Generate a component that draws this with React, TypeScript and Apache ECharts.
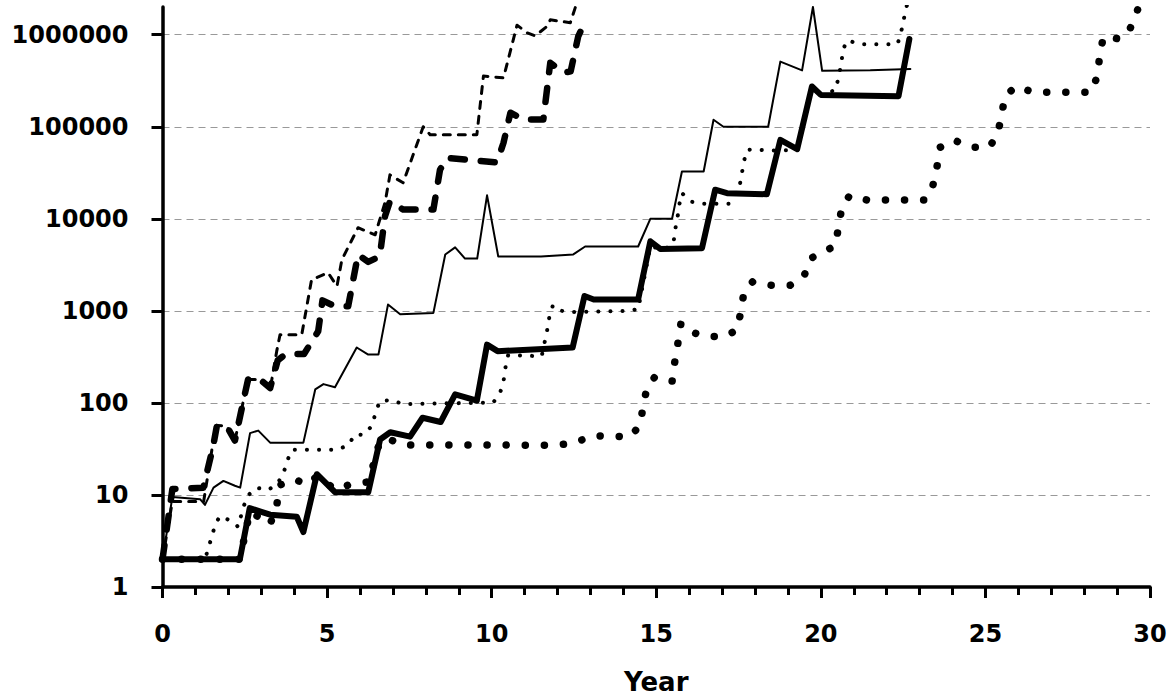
import React, { useEffect, useRef } from "react";
import * as echarts from "echarts";

const yTickValues = [1, 10, 100, 1000, 10000, 100000, 1000000];
const xMin = 0;
const xMax = 30;
const xStep = 5;
const yMin = 1;
const yMax = 2000000;

const thinDashed: [number, number][] = [
  [0, 2], [0.3, 8.5], [1.25, 8.5], [1.55, 40], [1.65, 57], [1.95, 56], [2.2, 39],
  [2.5, 124], [2.66, 180], [2.96, 180], [3.27, 141], [3.47, 365], [3.57, 550],
  [4.23, 550], [4.53, 2200], [4.69, 2300], [5.03, 2600], [5.3, 1850], [5.45, 3600],
  [5.94, 8000], [6.46, 6700], [6.76, 15000], [6.91, 30000], [7.31, 24600],
  [7.92, 100000], [8.13, 82000], [9.55, 82000], [9.75, 355000], [10.36, 340000],
  [10.77, 1270000], [11.07, 1050000], [11.32, 970000], [11.68, 1230000],
  [11.78, 1450000], [12.39, 1350000], [12.65, 2600000],
];

const thickDashed: [number, number][] = [
  [0, 2], [0.3, 11.6], [1.24, 12], [1.54, 34], [1.65, 56], [1.95, 56], [2.2, 39],
  [2.5, 124], [2.6, 180], [2.96, 180], [3.27, 145], [3.5, 290], [3.75, 340],
  [4.3, 340], [4.73, 600], [4.86, 1300], [5.24, 1120], [5.64, 1120], [5.94, 4100],
  [6.25, 3400], [6.6, 3900], [6.76, 10700], [6.91, 15500], [7.31, 12600],
  [8.23, 12600], [8.43, 34000], [8.64, 46000], [10.16, 41000], [10.36, 67000],
  [10.57, 142000], [10.97, 120000], [11.57, 120000], [11.78, 495000],
  [12.18, 385000], [12.4, 400000], [12.63, 960000], [12.85, 1400000],
];

const thinSolid: [number, number][] = [
  [0, 2], [0.3, 9.5], [1.14, 9], [1.29, 7.8], [1.55, 12], [1.85, 14.2], [2.2, 12.6],
  [2.36, 12], [2.66, 47], [2.91, 50], [3.27, 37], [4.28, 37], [4.64, 140],
  [4.89, 160], [5.24, 148], [5.9, 400], [6.25, 335], [6.56, 335], [6.85, 1170],
  [7.22, 920], [8.23, 950], [8.59, 4100], [8.89, 4900], [9.19, 3700], [9.56, 3700],
  [9.86, 18000], [10.2, 3900], [11.5, 3900], [12.48, 4100], [12.84, 5000],
  [14.45, 5000], [14.82, 10000], [15.48, 10000], [15.78, 32700], [16.44, 32700],
  [16.74, 119000], [17.04, 100000], [18.4, 100000], [18.77, 510000],
  [19.43, 410000], [19.76, 2000000], [20.04, 405000], [21.5, 410000],
  [22.72, 425000],
];

const thickSolid: [number, number][] = [
  [0, 2], [2.35, 2], [2.65, 7.2], [3.27, 6.1], [4.08, 5.8], [4.28, 3.95],
  [4.69, 16.8], [5.24, 10.7], [6.25, 10.7], [6.61, 40], [6.92, 48], [7.52, 43],
  [7.9, 69], [8.45, 62], [8.89, 124], [9.55, 106], [9.86, 430], [10.18, 365],
  [12.46, 400], [12.82, 1450], [13.1, 1330], [14.45, 1330], [14.82, 5700],
  [15.12, 4700], [16.39, 4800], [16.79, 20700], [17.15, 19000], [18.36, 18500],
  [18.77, 72000], [19.28, 57000], [19.73, 274000], [20.0, 222000],
  [22.36, 215000], [22.69, 900000],
];

const thinDotted: [number, number][] = [
  [0, 2], [1.3, 2], [1.38, 2.6], [1.5, 3.5], [1.6, 4.8], [1.75, 5.9], [2.1, 5.2],
  [2.3, 4.5], [2.45, 7.3], [2.6, 9.9], [2.86, 12], [3.2, 11.3], [3.47, 13],
  [3.67, 16.8], [3.77, 22.6], [3.93, 31], [5.3, 31], [5.64, 34.6], [5.85, 45.5],
  [6.1, 45], [6.36, 56], [6.46, 75], [6.6, 105], [6.97, 107], [7.31, 97],
  [10.05, 101], [10.26, 130], [10.36, 172], [10.42, 243], [10.5, 330],
  [11.52, 322], [11.6, 440], [11.68, 600], [11.75, 850], [11.86, 1150],
  [12.13, 1000], [12.48, 970], [14.1, 1000], [14.45, 1040], [14.82, 5000],
  [15.2, 4700], [15.45, 5000], [15.53, 5700], [15.58, 7800], [15.65, 10600],
  [15.71, 14800], [15.78, 19000], [16.08, 15300], [16.43, 14600], [17.2, 14600],
  [17.53, 22500], [17.6, 31000], [17.67, 43000], [17.76, 56000], [18.0, 57000],
  [18.36, 55000], [19.28, 56000], [19.73, 260000], [20.0, 225000],
  [20.45, 250000], [20.57, 390000], [20.69, 710000], [20.8, 870000],
  [21.18, 790000], [22.33, 790000], [22.44, 1070000], [22.52, 1470000],
  [22.6, 2000000], [22.7, 2600000],
];

const thickDotted: [number, number][] = [
  [0, 2], [2.35, 2], [2.65, 6.5], [3.0, 5.6], [3.27, 4.8], [3.47, 7.7],
  [3.57, 12.8], [4.0, 14.8], [4.4, 13], [4.7, 16], [5.24, 11.5], [5.7, 13],
  [6.26, 13.9], [6.6, 38], [6.92, 40], [7.27, 35], [11.98, 34.7], [12.54, 37],
  [13.05, 44], [14.2, 43], [14.51, 57], [14.6, 92], [14.72, 147], [14.94, 188],
  [15.48, 170], [15.56, 275], [15.66, 450], [15.75, 730], [16.01, 600],
  [16.49, 525], [17.1, 525], [17.47, 630], [17.57, 1000], [17.67, 1630],
  [17.93, 2070], [18.49, 1900], [19.07, 1900], [19.48, 2330], [19.68, 3700],
  [20.04, 4300], [20.44, 5100], [20.54, 8300], [20.64, 13400], [20.87, 17800],
  [21.4, 16000], [23.18, 16000], [23.41, 23500], [23.53, 37000], [23.63, 60000],
  [24.04, 72000], [24.52, 60000], [25.12, 60000], [25.37, 83000],
  [25.49, 132000], [25.59, 214000], [25.93, 274000], [26.47, 237000],
  [28.22, 237000], [28.4, 357000], [28.47, 580000], [28.58, 940000],
  [29.1, 900000], [29.39, 1150000], [29.61, 1800000], [29.75, 2600000],
];

const FONT = "DejaVu Sans";

export default function App() {
  const ref = useRef<HTMLDivElement>(null);

  useEffect(() => {
    document.body.style.margin = "0";
    if (!ref.current) return;
    const chart = echarts.init(ref.current, undefined, { renderer: "svg" });

    const mkLine = (
      name: string,
      data: [number, number][],
      width: number,
      type: any,
      z: number
    ) => ({
      name,
      type: "line",
      data,
      showSymbol: false,
      symbol: "none",
      clip: true,
      z,
      lineStyle: { color: "#000", width, type, cap: "round", join: "round" },
    });

    chart.setOption({
      animation: false,
      backgroundColor: "#fff",
      grid: { left: 162.5, right: 21, top: 7, bottom: 112, containLabel: false },
      xAxis: {
        type: "value",
        min: xMin,
        max: xMax,
        interval: xStep,
        name: "Year",
        nameLocation: "middle",
        nameGap: 82,
        nameTextStyle: { fontFamily: FONT, fontWeight: "bold", fontSize: 26, color: "#000" },
        axisLine: { show: true, onZero: false, lineStyle: { color: "#000", width: 3.5 } },
        axisTick: { show: true, length: 11, lineStyle: { color: "#000", width: 3 } },
        minorTick: { show: true, splitNumber: 5, length: 8, lineStyle: { color: "#000", width: 3 } },
        axisLabel: { margin: 35, fontFamily: FONT, fontWeight: "bold", fontSize: 24, color: "#000" },
        splitLine: { show: false },
        minorSplitLine: { show: false },
      },
      yAxis: {
        type: "log",
        logBase: 10,
        min: yMin,
        max: yMax,
        axisLine: { show: true, onZero: false, lineStyle: { color: "#000", width: 3.5 } },
        axisTick: {
          show: true,
          length: 11,
          customValues: yTickValues,
          lineStyle: { color: "#000", width: 3 },
        },
        axisLabel: {
          customValues: yTickValues,
          margin: 34,
          fontFamily: FONT,
          fontWeight: "bold",
          fontSize: 24,
          color: "#000",
          formatter: (v: number) => String(Math.round(v)),
        },
        splitLine: {
          show: true,
          showMinLine: false,
          showMaxLine: true,
          lineStyle: { color: "#999", width: 1.2, type: [7, 5] },
        },
      },
      series: [
        mkLine("thinDotted", thinDotted, 4, [0.1, 12], 2),
        mkLine("thickDotted", thickDotted, 7.5, [0.1, 19], 2),
        mkLine("thinDashed", thinDashed, 3, [7, 8], 3),
        mkLine("thickDashed", thickDashed, 6.5, [14, 16], 3),
        mkLine("thinSolid", thinSolid, 2, "solid", 4),
        mkLine("thickSolid", thickSolid, 6, "solid", 5),
      ],
    });

    return () => chart.dispose();
  }, []);

  return <div ref={ref} style={{ width: 1171, height: 700 }} />;
}
